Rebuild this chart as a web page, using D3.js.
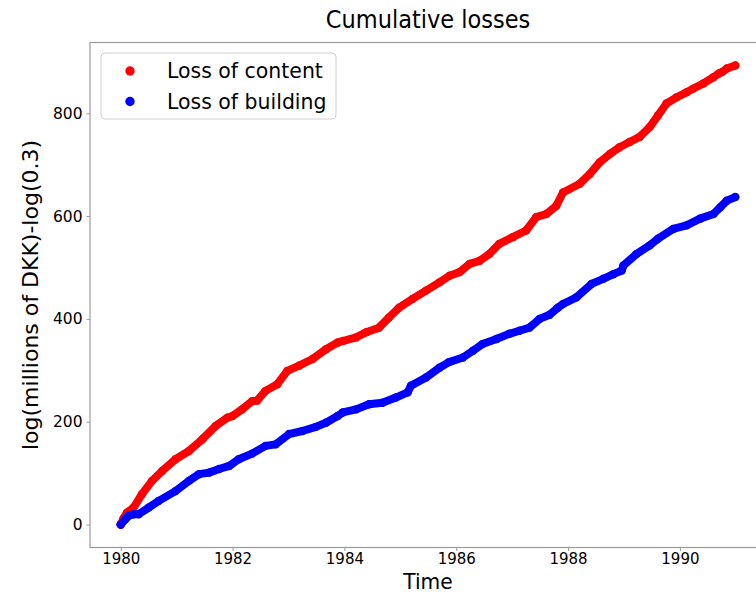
<!DOCTYPE html>
<html>
<head>
<meta charset="utf-8">
<script src="https://cdn.jsdelivr.net/npm/d3@7"></script>
<style>
  body { margin: 0; background: white; }
  text { font-family: "DejaVu Sans", sans-serif; fill: #000; }
</style>
</head>
<body>
<script>
// cumulative loss readings [year, value]
const contentLoss = [[1980.00,0],[1980.05,12],[1980.11,23],[1980.23,33],[1980.38,59],[1980.56,85],[1980.74,104],[1980.98,127],[1981.22,143],[1981.46,166],[1981.70,192],[1981.91,208],[1982.00,211],[1982.17,224],[1982.35,240],[1982.44,241],[1982.59,260],[1982.80,273],[1982.98,299],[1983.19,309],[1983.43,322],[1983.67,341],[1983.88,354],[1983.97,357],[1984.21,364],[1984.39,374],[1984.62,383],[1984.80,403],[1984.98,422],[1985.22,439],[1985.46,455],[1985.70,471],[1985.88,484],[1986.06,491],[1986.24,507],[1986.42,513],[1986.59,526],[1986.77,546],[1987.01,559],[1987.25,572],[1987.43,598],[1987.61,604],[1987.79,620],[1987.91,646],[1988.21,663],[1988.39,682],[1988.57,705],[1988.75,721],[1988.92,734],[1989.10,744],[1989.28,754],[1989.46,773],[1989.61,796],[1989.76,819],[1989.94,831],[1990.12,841],[1990.24,848],[1990.42,858],[1990.60,870],[1990.69,877],[1990.75,880],[1990.84,887],[1990.99,893]];

const buildingLoss = [[1980.00,0],[1980.08,10],[1980.14,17],[1980.23,20],[1980.32,20],[1980.50,33],[1980.68,46],[1980.98,65],[1981.22,85],[1981.40,98],[1981.58,101],[1981.76,108],[1981.94,114],[1982.11,127],[1982.35,138],[1982.59,153],[1982.77,156],[1983.01,176],[1983.25,182],[1983.49,190],[1983.67,198],[1983.88,211],[1983.97,218],[1984.21,224],[1984.44,234],[1984.68,237],[1984.92,247],[1985.13,257],[1985.19,270],[1985.46,286],[1985.70,305],[1985.87,316],[1986.12,325],[1986.30,338],[1986.47,351],[1986.72,361],[1986.95,371],[1987.13,377],[1987.31,383],[1987.49,400],[1987.67,408],[1987.82,422],[1987.91,429],[1988.15,442],[1988.42,468],[1988.63,478],[1988.81,487],[1988.96,494],[1988.99,504],[1989.22,526],[1989.46,543],[1989.61,556],[1989.88,575],[1990.12,582],[1990.36,595],[1990.60,604],[1990.72,617],[1990.84,630],[1990.99,637]];

const seriesNames = ["Loss of content", "Loss of building"];
const seriesColors = ["red", "blue"];
const xTicks = [1980, 1982, 1984, 1986, 1988, 1990];
const yTicks = [0, 200, 400, 600, 800];

const width = 756, height = 594;
const margin = {top: 42.5, left: 90, plotW: 676, plotH: 505};

const svg = d3.select("body").append("svg")
    .attr("width", width)
    .attr("height", height);

// matplotlib style 5% margins
function padded(ext) {
    const r = ext[1] - ext[0];
    return [ext[0] - 0.05 * r, ext[1] + 0.05 * r];
}
const all = contentLoss.concat(buildingLoss);
const x = d3.scaleLinear()
    .domain(padded(d3.extent(all, d => d[0])))
    .range([margin.left, margin.left + margin.plotW]);
const y = d3.scaleLinear()
    .domain(padded(d3.extent(all, d => d[1])))
    .range([margin.top + margin.plotH, margin.top]);

// frame
svg.append("rect")
    .attr("x", margin.left)
    .attr("y", margin.top)
    .attr("width", margin.plotW)
    .attr("height", margin.plotH)
    .attr("fill", "none")
    .attr("stroke", "#9a9a9a")
    .attr("stroke-width", 1.2);

// axes
const xAxis = svg.append("g")
    .attr("transform", `translate(0,${margin.top + margin.plotH})`)
    .call(d3.axisBottom(x).tickValues(xTicks).tickFormat(d3.format("d")).tickSize(3.5).tickPadding(2));
const yAxis = svg.append("g")
    .attr("transform", `translate(${margin.left},0)`)
    .call(d3.axisLeft(y).tickValues(yTicks).tickSize(3.5).tickPadding(4));
[xAxis, yAxis].forEach(a => {
    a.select(".domain").remove();
    a.selectAll(".tick line").attr("stroke", "#9a9a9a");
    a.selectAll(".tick text").style("font-size", "15.5px").attr("fill", "#000");
});
xAxis.selectAll(".tick text").style("font-size", "15px");

// series: dense scatter drawn as thick stroke through readings plus dots
const line = d3.line().x(d => x(d[0])).y(d => y(d[1]));
[contentLoss, buildingLoss].forEach((data, i) => {
    svg.append("path")
        .datum(data)
        .attr("d", line)
        .attr("fill", "none")
        .attr("stroke", seriesColors[i])
        .attr("stroke-width", 8)
        .attr("stroke-linejoin", "round")
        .attr("stroke-linecap", "round");
    svg.append("g").selectAll("circle")
        .data(data)
        .enter().append("circle")
        .attr("cx", d => x(d[0]))
        .attr("cy", d => y(d[1]))
        .attr("r", 4.2)
        .attr("fill", seriesColors[i]);
});

// title and labels (slightly condensed like the reference)
svg.append("text")
    .attr("transform", `translate(${margin.left + margin.plotW / 2},28) scale(0.9,1)`)
    .attr("text-anchor", "middle")
    .style("font-size", "25px")
    .text("Cumulative losses");

svg.append("text")
    .attr("transform", `translate(${margin.left + margin.plotW / 2},589) scale(0.92,1)`)
    .attr("text-anchor", "middle")
    .style("font-size", "22px")
    .text("Time");

svg.append("text")
    .attr("transform", `translate(38,${margin.top + margin.plotH / 2}) rotate(-90)`)
    .attr("text-anchor", "middle")
    .style("font-size", "22px")
    .text("log(millions of DKK)-log(0.3)");

// legend
const legend = svg.append("g").attr("transform", "translate(101,53)");
legend.append("rect")
    .attr("width", 235)
    .attr("height", 66)
    .attr("rx", 4)
    .attr("fill", "white")
    .attr("fill-opacity", 0.8)
    .attr("stroke", "#d0d0d0");
seriesNames.forEach((name, i) => {
    legend.append("circle")
        .attr("cx", 29)
        .attr("cy", 18 + i * 30.5)
        .attr("r", 4.7)
        .attr("fill", seriesColors[i]);
    legend.append("text")
        .attr("transform", `translate(66,${25 + i * 30.5}) scale(0.93,1)`)
        .style("font-size", "22px")
        .text(name);
});
</script>
</body>
</html>
